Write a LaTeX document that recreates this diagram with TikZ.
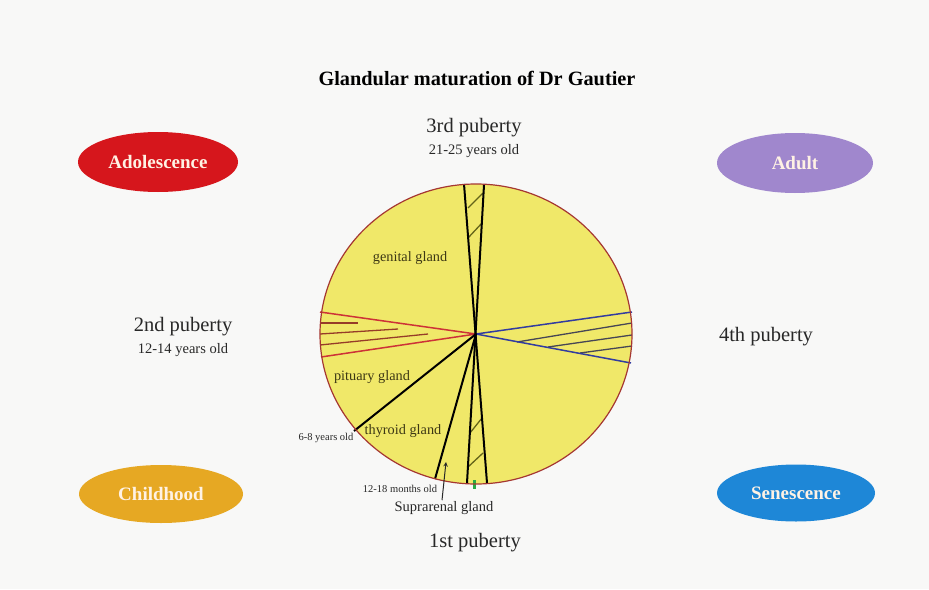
\documentclass[tikz,border=0pt]{standalone}
\usepackage{fontspec}
\setmainfont{Liberation Serif}
\usepackage{tikz}
\usetikzlibrary{arrows,calc,positioning,shapes}
\newdimen\xrad
\newdimen\yrad
\xrad=156pt
\yrad=150pt
\definecolor{paper}{RGB}{248,248,247}
\definecolor{pulp}{RGB}{240,232,105}
\definecolor{rimred}{RGB}{165,55,50}
\definecolor{adolescent}{RGB}{214,22,28}
\definecolor{grownup}{RGB}{160,135,205}
\definecolor{child}{RGB}{230,168,35}
\definecolor{elder}{RGB}{30,135,215}
\definecolor{cream}{RGB}{255,242,228}
\definecolor{ink}{RGB}{40,40,40}
\definecolor{glandink}{RGB}{60,55,20}
\definecolor{redline}{RGB}{205,50,55}
\definecolor{redhatch}{RGB}{150,60,40}
\definecolor{blueline}{RGB}{50,60,160}
\definecolor{bluehatch}{RGB}{70,70,85}
\definecolor{olivehatch}{RGB}{100,100,25}
\definecolor{greenmark}{RGB}{40,170,70}
\tikzstyle{stage}=[
  ellipse,
  inner sep=0pt,
  minimum height=60pt,
  minimum width=160pt,
  font={\fontsize{19}{19}\selectfont\bfseries},
  text=cream,
]
\tikzstyle{heading}=[
  inner sep=0pt,
  font={\fontsize{20.3}{20.3}\selectfont\bfseries},
  text=black,
]
\tikzstyle{puberty}=[
  inner sep=0pt,
  font={\fontsize{20.5}{20.5}\selectfont},
  text=ink,
]
\tikzstyle{years}=[
  inner sep=0pt,
  font={\fontsize{14.5}{14.5}\selectfont},
  text=ink,
]
\tikzstyle{gland}=[
  inner sep=0pt,
  font={\fontsize{14.3}{14.3}\selectfont},
  text=glandink,
]
\tikzstyle{note}=[
  inner sep=0pt,
  font={\fontsize{10.5}{10.5}\selectfont},
  text=ink,
]
\tikzstyle{rim}=[
  draw=rimred,
  line width=1.2pt,
]
\tikzstyle{axis}=[
  draw=black,
  line width=2pt,
]
\tikzstyle{redaxis}=[
  draw=redline,
  line width=1.5pt,
]
\tikzstyle{blueaxis}=[
  draw=blueline,
  line width=1.5pt,
]
\tikzstyle{hatch}=[
  line width=1.3pt,
]
\tikzstyle{pointer}=[
  draw=ink,
  line width=1pt,
]
\tikzset{
  >=stealth,
}
\begin{document}
\begin{tikzpicture}[x=1pt,y=-1pt]
  \useasboundingbox [fill=paper] (0,0) rectangle (929,589);
  %%
  \node (title) [heading] at (477,78) {Glandular maturation of Dr Gautier};
  %%
  \node (adolescence) [stage, fill=adolescent] at (158,162) {Adolescence};
  \node (adult) [stage, fill=grownup, minimum width=156pt] at (795,163) {Adult};
  \node (childhood) [stage, fill=child, minimum width=164pt, minimum height=58pt] at (161,494) {Childhood};
  \node (senescence) [stage, fill=elder, minimum width=158pt, minimum height=57pt] at (796,493) {Senescence};
  %%
  \coordinate (O) at (476,334);
  \fill [pulp] (O) ellipse [x radius=\xrad, y radius=\yrad];
  %% left wedge
  \draw [hatch, redhatch] (320,323) -- (358,323);
  \draw [hatch, redhatch] (320,334) -- (398,329);
  \draw [hatch, redhatch] (320,345) -- (428,334);
  \draw [redaxis] (O) -- (320,312);
  \draw [redaxis] (O) -- (321,357);
  %% right wedge
  \draw [hatch, bluehatch] (632,323) -- (517,342);
  \draw [hatch, bluehatch] (632,335) -- (548,347);
  \draw [hatch, bluehatch] (632,346) -- (580,353);
  \draw [blueaxis] (O) -- (632,312);
  \draw [blueaxis] (O) -- (631,363);
  %% top and bottom wedges
  \draw [hatch, olivehatch] (468,208) -- (483,193);
  \draw [hatch, olivehatch] (468,238) -- (482,223);
  \draw [hatch, olivehatch] (470,433) -- (482,418);
  \draw [hatch, olivehatch] (468,467) -- (483,453);
  \draw [axis] (464,184) -- (487,483);
  \draw [axis] (484,185) -- (467,483);
  \draw [axis] (O) -- (354,431);
  \draw [axis] (O) -- (435,479);
  \fill [greenmark] (472.5,480) rectangle (475.5,489);
  %%
  \draw [rim] (O) ellipse [x radius=\xrad, y radius=\yrad];
  %%
  \node (third) [puberty] at (474,128) {3rd puberty};
  \node (thirdage) [years, below=7pt of third] {21-25 years old};
  \node (second) [puberty] at (183,327) {2nd puberty};
  \node (secondage) [years, below=7pt of second] {12-14 years old};
  \node (fourth) [puberty] at (766,337) {4th puberty};
  \node (first) [puberty] at (475,543) {1st puberty};
  %%
  \node (genital) [gland] at (410,258) {genital gland};
  \node (pituary) [gland] at (372,377) {pituary gland};
  \node (thyroid) [gland] at (403,431) {thyroid gland};
  \node (sixeight) [note] at (326,438) {6-8 years old};
  \node (months) [note] at (400,489) {12-18 months old};
  \node (suprarenal) [years] at (444,508) {Suprarenal gland};
  \coordinate (S) at (446,462);
  \draw [->, pointer] ($(suprarenal.north)+(-2,-1)$) -- (S);
\end{tikzpicture}
\end{document}
